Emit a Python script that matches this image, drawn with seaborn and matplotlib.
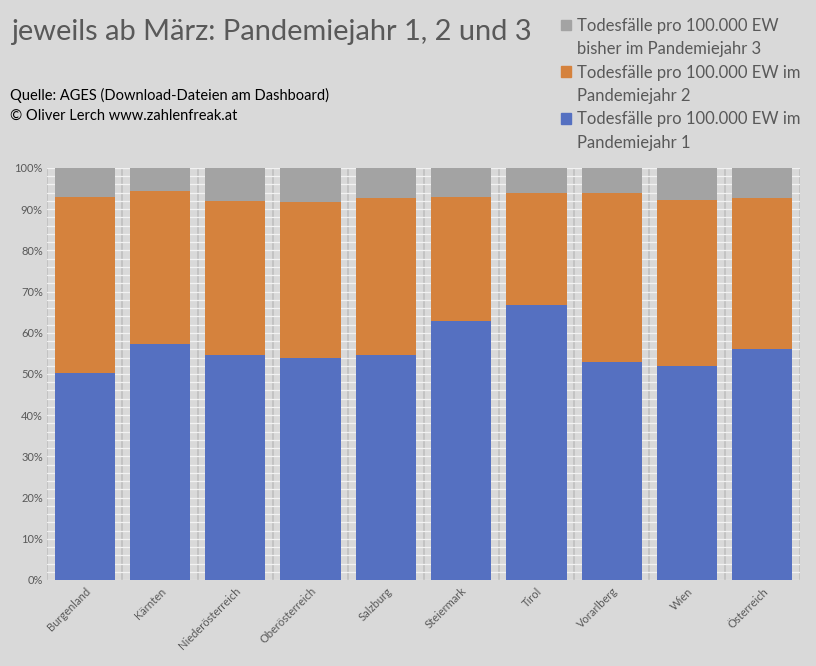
import numpy as np
import pandas as pd
import matplotlib
matplotlib.use("Agg")
import matplotlib.pyplot as plt
import matplotlib.patches as mpatches
from matplotlib.ticker import MultipleLocator, PercentFormatter
import seaborn as sns

# --- data (shares in % of the three pandemic years) ---
regions = ["Burgenland", "Kärnten", "Niederösterreich", "Oberösterreich", "Salzburg",
           "Steiermark", "Tirol", "Vorarlberg", "Wien", "Österreich"]
jahr1 = [50.2, 57.3, 54.6, 53.9, 54.6, 62.9, 66.7, 52.9, 51.9, 56.1]
jahr2 = [42.8, 37.1, 37.4, 37.8, 38.1, 30.1, 27.3, 41.1, 40.3, 36.6]
jahr3 = [7.0, 5.6, 8.0, 8.3, 7.3, 7.0, 6.0, 6.0, 7.8, 7.3]

label1 = ["Todesfälle pro 100.000 EW im", "Pandemiejahr 1"]
label2 = ["Todesfälle pro 100.000 EW im", "Pandemiejahr 2"]
label3 = ["Todesfälle pro 100.000 EW", "bisher im Pandemiejahr 3"]
title = "jeweils ab März: Pandemiejahr 1, 2 und 3"
source = "Quelle: AGES (Download-Dateien am Dashboard)\n© Oliver Lerch www.zahlenfreak.at"

c1, c2, c3 = "#5570C1", "#D5823D", "#A3A3A3"
bg = "#D9D9D9"

df = pd.DataFrame({"Region": regions, "j1": jahr1, "j2": jahr2, "j3": jahr3})
df["c12"] = df["j1"] + df["j2"]
df["c123"] = df["c12"] + df["j3"]

sns.set_theme(style="white")
plt.rcParams["font.family"] = ["Lato", "DejaVu Sans"]

fig = plt.figure(figsize=(8.16, 6.66), dpi=100, facecolor=bg)
ax = fig.add_axes([47 / 816, 86 / 666, 753 / 816, 412 / 666])
ax.set_facecolor(bg)

for col, colr in (("c123", c3), ("c12", c2), ("j1", c1)):
    sns.barplot(data=df, x="Region", y=col, color=colr, saturation=1, width=0.8, ax=ax,
                zorder=3, linewidth=0, edgecolor="none")

ax.set_ylim(0, 100)
ax.set_xlim(-0.5, len(regions) - 0.5)
ax.yaxis.set_major_locator(MultipleLocator(10))
ax.yaxis.set_minor_locator(MultipleLocator(2))
ax.yaxis.set_major_formatter(PercentFormatter(decimals=0))
ax.set_xticks(np.arange(-0.5, len(regions)), minor=True)
ax.set_axisbelow(True)
ax.yaxis.grid(True, which="both", color="#F2F2F2", linewidth=0.9)
ax.xaxis.grid(True, which="minor", color="#BFBFBF", linewidth=1.2)
ax.xaxis.grid(False, which="major")
for s in ax.spines.values():
    s.set_visible(False)
ax.set_xlabel("")
ax.set_ylabel("")
ax.tick_params(axis="both", which="both", length=0)
ax.tick_params(axis="y", labelsize=8, labelcolor="#595959", pad=3)
ax.tick_params(axis="x", labelsize=8, labelcolor="#595959", pad=4)
for lab in ax.get_xticklabels():
    lab.set_rotation(45)
    lab.set_ha("right")
    lab.set_rotation_mode("anchor")

fig.text(11 / 816, 1 - 40 / 666, title, fontsize=20.9, color="#595959", va="baseline", ha="left")
fig.text(10 / 816, 1 - 88 / 666, source, fontsize=10.5, color="#000000", va="top", ha="left",
         linespacing=1.55)

blank = mpatches.Patch(color="none")
handles, labels = [], []
for colr, lab in ((c3, label3), (c2, label2), (c1, label1)):
    handles += [mpatches.Patch(color=colr), blank]
    labels += lab
leg = fig.legend(handles=handles, labels=labels, loc="upper left",
                 bbox_to_anchor=(546 / 816, 1 - 3 / 666),
                 frameon=False, fontsize=12, handlelength=0.6, handleheight=0.6,
                 handletextpad=0.35, labelspacing=0.44)
for t in leg.get_texts():
    t.set_color("#595959")

fig.savefig("out.png", dpi=100, facecolor=bg)
